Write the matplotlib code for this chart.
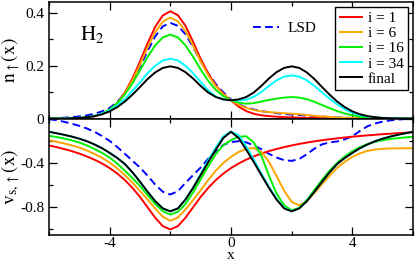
import numpy as np
import matplotlib
matplotlib.use("Agg")
import matplotlib.pyplot as plt
from matplotlib.ticker import FixedLocator

plt.rcParams['font.family'] = ['Liberation Serif', 'DejaVu Serif']
plt.rcParams['mathtext.fontset'] = 'stix'

# x grid (-6 .. 6, step 0.25)
x = np.linspace(-6, 6, 49)

# ---- top panel: spin-up density n_up(x) ----
n_i1 = [0.000, 0.000, 0.000, 0.001, 0.001, 0.003, 0.008, 0.017, 0.032, 0.058, 0.098, 0.151,
        0.215, 0.284, 0.346, 0.389, 0.405, 0.390, 0.350, 0.290, 0.225, 0.170, 0.125, 0.092,
        0.068,
        0.045, 0.028, 0.018, 0.012, 0.009, 0.007, 0.005, 0.004, 0.003, 0.002, 0.002, 0.001,
        0.001, 0.001, 0.000, 0.000, 0.000, 0.000, 0.000, 0.000, 0.000, 0.000, 0.000, 0.000]
n_i6 = [0.000, 0.000, 0.000, 0.001, 0.002, 0.004, 0.009, 0.018, 0.032, 0.056, 0.094, 0.144,
        0.203, 0.268, 0.326, 0.366, 0.381, 0.367, 0.330, 0.275, 0.215, 0.163, 0.122, 0.092,
        0.069,
        0.052, 0.040, 0.032, 0.027, 0.024, 0.022, 0.020, 0.018, 0.016, 0.013, 0.010, 0.008,
        0.006, 0.004, 0.003, 0.002, 0.001, 0.001, 0.001, 0.000, 0.000, 0.000, 0.000, 0.000]
n_i16 = [0.000, 0.000, 0.001, 0.002, 0.002, 0.005, 0.010, 0.019, 0.034, 0.058, 0.091, 0.133,
         0.182, 0.232, 0.276, 0.306, 0.317, 0.306, 0.276, 0.233, 0.185, 0.142, 0.108, 0.084,
         0.069,
         0.060, 0.056, 0.058, 0.064, 0.070, 0.075, 0.079, 0.081, 0.079, 0.073, 0.063, 0.051,
         0.039, 0.028, 0.019, 0.012, 0.007, 0.004, 0.002, 0.001, 0.000, 0.000, 0.000, 0.000]
n_i34 = [0.000, 0.000, 0.001, 0.001, 0.003, 0.005, 0.010, 0.018, 0.031, 0.049, 0.073, 0.104,
         0.137, 0.171, 0.199, 0.219, 0.226, 0.219, 0.199, 0.171, 0.138, 0.106, 0.083, 0.072,
         0.069,
         0.068, 0.071, 0.082, 0.100, 0.123, 0.144, 0.158, 0.163, 0.158, 0.144, 0.123, 0.099,
         0.075, 0.053, 0.035, 0.022, 0.013, 0.007, 0.004, 0.002, 0.001, 0.000, 0.000, 0.000]
n_final = [0.000, 0.000, 0.000, 0.001, 0.002, 0.005, 0.009, 0.016, 0.027, 0.043, 0.064, 0.090,
           0.119, 0.149, 0.174, 0.191, 0.197, 0.191, 0.175, 0.151, 0.123, 0.098, 0.081, 0.072,
           0.069,
           0.072, 0.081, 0.098, 0.123, 0.151, 0.175, 0.191, 0.197, 0.191, 0.174, 0.149, 0.119,
           0.090, 0.064, 0.043, 0.027, 0.016, 0.009, 0.005, 0.002, 0.001, 0.000, 0.000, 0.000]
n_lsd = [0.001, 0.002, 0.003, 0.005, 0.008, 0.012, 0.018, 0.027, 0.040, 0.062, 0.095, 0.140,
         0.195, 0.255, 0.310, 0.348, 0.361, 0.350, 0.318, 0.270, 0.218, 0.170, 0.130, 0.098,
         0.072,
         0.054, 0.042, 0.034, 0.028, 0.024, 0.020, 0.017, 0.015, 0.013, 0.011, 0.009, 0.007,
         0.005, 0.004, 0.003, 0.002, 0.001, 0.001, 0.001, 0.000, 0.000, 0.000, 0.000, 0.000]

# ---- bottom panel: KS potential v_s,up(x) ----
v_i1 = [-0.243, -0.258, -0.275, -0.294, -0.316, -0.342, -0.371, -0.406, -0.447, -0.496, -0.555, -0.625,
        -0.707, -0.800, -0.894, -0.970, -1.000, -0.970, -0.894, -0.800, -0.707, -0.625, -0.555, -0.496,
        -0.447,
        -0.406, -0.371, -0.342, -0.316, -0.294, -0.275, -0.258, -0.243, -0.229, -0.217, -0.206, -0.196,
        -0.187, -0.179, -0.171, -0.164, -0.158, -0.152, -0.147, -0.141, -0.137, -0.132, -0.128, -0.124]
v_i6 = [-0.196, -0.210, -0.225, -0.242, -0.262, -0.288, -0.320, -0.355, -0.397, -0.450, -0.510, -0.578,
        -0.653, -0.730, -0.810, -0.885, -0.922, -0.892, -0.820, -0.735, -0.647, -0.555, -0.470, -0.400,
        -0.346,
        -0.302, -0.274, -0.266, -0.300, -0.390, -0.518, -0.650, -0.752, -0.782, -0.748, -0.672, -0.593,
        -0.515, -0.445, -0.390, -0.346, -0.314, -0.292, -0.280, -0.273, -0.270, -0.269, -0.268, -0.268]
v_i16 = [-0.156, -0.167, -0.180, -0.197, -0.217, -0.243, -0.275, -0.310, -0.352, -0.407, -0.470, -0.537,
         -0.608, -0.690, -0.770, -0.835, -0.866, -0.840, -0.770, -0.665, -0.548, -0.430, -0.320, -0.240,
         -0.195,
         -0.165, -0.160, -0.215, -0.335, -0.515, -0.675, -0.782, -0.828, -0.805, -0.735, -0.645, -0.553,
         -0.470, -0.400, -0.342, -0.295, -0.258, -0.230, -0.210, -0.196, -0.185, -0.177, -0.170, -0.165]
v_i34 = [-0.120, -0.133, -0.147, -0.163, -0.182, -0.205, -0.234, -0.268, -0.310, -0.356, -0.410, -0.485,
         -0.570, -0.660, -0.745, -0.810, -0.837, -0.810, -0.730, -0.625, -0.500, -0.375, -0.262, -0.160,
         -0.117,
         -0.150, -0.250, -0.370, -0.495, -0.615, -0.722, -0.805, -0.835, -0.810, -0.745, -0.660, -0.570,
         -0.485, -0.410, -0.356, -0.310, -0.268, -0.234, -0.205, -0.182, -0.163, -0.147, -0.133, -0.120]
v_final = [-0.120, -0.133, -0.147, -0.163, -0.182, -0.205, -0.234, -0.268, -0.310, -0.356, -0.410, -0.485,
           -0.570, -0.660, -0.745, -0.810, -0.837, -0.810, -0.730, -0.625, -0.510, -0.392, -0.280, -0.175,
           -0.120,
           -0.175, -0.280, -0.392, -0.510, -0.625, -0.730, -0.810, -0.837, -0.810, -0.745, -0.660, -0.570,
           -0.485, -0.410, -0.356, -0.310, -0.268, -0.234, -0.205, -0.182, -0.163, -0.147, -0.133, -0.120]
v_lsd = [-0.006, -0.015, -0.030, -0.047, -0.066, -0.090, -0.120, -0.158, -0.202, -0.257, -0.318, -0.380,
         -0.442, -0.515, -0.595, -0.660, -0.685, -0.655, -0.580, -0.510, -0.442, -0.362, -0.292, -0.237,
         -0.212,
         -0.205, -0.215, -0.242, -0.277, -0.318, -0.352, -0.375, -0.382, -0.365, -0.322, -0.272, -0.233,
         -0.215, -0.207, -0.188, -0.160, -0.112, -0.070, -0.045, -0.028, -0.017, -0.010, -0.005, -0.002]

labels = ['i = 1', 'i = 6', 'i = 16', 'i = 34', 'final']
colors = ['#ff0000', '#ffa500', '#00f000', '#00ffff', '#000000']
dens = [n_i1, n_i6, n_i16, n_i34, n_final]
pots = [v_i1, v_i6, v_i16, v_i34, v_final]

fig = plt.figure(figsize=(4.15, 2.66), dpi=100)
gs = fig.add_gridspec(2, 1, left=49/415, right=413/415, top=1-2/266, bottom=1-235/266, hspace=0)
ax1 = fig.add_subplot(gs[0])
ax2 = fig.add_subplot(gs[1], sharex=ax1)

lw = 1.4
lsd1, = ax1.plot(x, n_lsd, color='#0000ff', lw=lw, ls=(0, (4, 2.2)))
handles = []
for d, c, l in zip(dens, colors, labels):
    h, = ax1.plot(x, d, color=c, lw=lw, label=l)
    handles.append(h)
ax2.plot(x, v_lsd, color='#0000ff', lw=lw, ls=(0, (4, 2.2)))
for v, c in zip(pots, colors):
    ax2.plot(x, v, color=c, lw=lw)

ax1.set_xlim(-6, 6)
ax1.set_ylim(0, 0.44)
ax2.set_ylim(-1.05, 0)

for ax in (ax1, ax2):
    ax.xaxis.set_major_locator(FixedLocator([-4, 0, 4]))
    ax.xaxis.set_minor_locator(FixedLocator([-6, -2, 2, 6]))
    ax.tick_params(which='both', direction='in', top=True, right=True, labelsize=11, width=0.9)
    ax.tick_params(which='major', length=6)
    ax.tick_params(which='minor', length=3)
    for s in ax.spines.values():
        s.set_linewidth(1.1)

ax1.yaxis.set_major_locator(FixedLocator([0, 0.2, 0.4]))
ax1.yaxis.set_minor_locator(FixedLocator([0.1, 0.3]))
ax1.set_yticklabels(['0', '0.2', '0.4'])
ax1.tick_params(labelbottom=False)

ax2.yaxis.set_major_locator(FixedLocator([-0.8, -0.4, 0]))
ax2.yaxis.set_minor_locator(FixedLocator([-1.0, -0.6, -0.2]))
ax2.set_yticklabels(['-0.8', '-0.4', ''])
ax2.set_xticklabels(['-4', '0', '4'])
ax2.tick_params(axis='x', pad=1.5)

ax1.set_ylabel(r'$\mathrm{n_{\uparrow}(x)}$', fontsize=14)
ax2.set_ylabel(r'$\mathrm{v_{s,\uparrow}(x)}$', fontsize=14)
ax1.yaxis.set_label_coords(-0.075, 0.5)
ax2.yaxis.set_label_coords(-0.075, 0.5)
ax2.set_xlabel('x', fontsize=11, labelpad=-0.5)

ax1.text(0.085, 0.67, r'$\mathrm{H_2}$', transform=ax1.transAxes, fontsize=15)

leg = ax1.legend(handles=handles, loc='upper right', fontsize=11, frameon=True,
                 fancybox=False, edgecolor='black', framealpha=1, borderaxespad=0.3,
                 handlelength=1.45, handletextpad=0.4, labelspacing=0.1, borderpad=0.3)
leg.get_frame().set_linewidth(1.0)
ax1.add_artist(leg)
leg2 = ax1.legend(handles=[lsd1], labels=['LSD'], loc='upper left', bbox_to_anchor=(0.53, 0.925),
                  fontsize=11, frameon=False, handlelength=1.7, handletextpad=0.6, borderpad=0.2)

fig.savefig('out.png', dpi=100)
